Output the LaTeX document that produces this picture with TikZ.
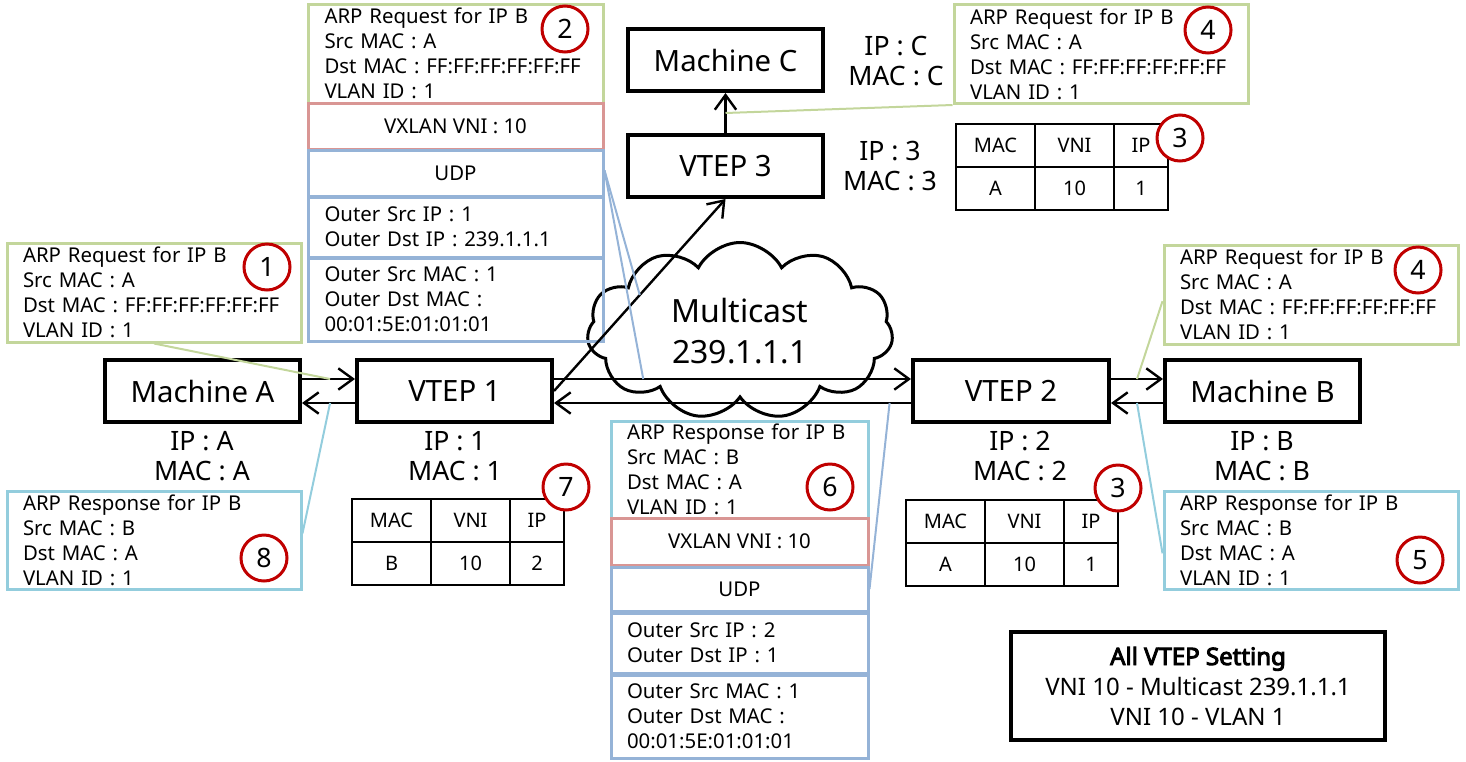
\documentclass[tikz,border=0pt]{standalone}
\usepackage{fontspec}
\setmainfont{Noto Sans}
\newfontfamily\headfont{Noto Sans}[FakeBold=4]
\usetikzlibrary{shapes.symbols}
\usetikzlibrary{arrows.meta}
\definecolor{arpgreen}{HTML}{C3D69B}
\definecolor{vxred}{HTML}{D99694}
\definecolor{outblue}{HTML}{95B3D7}
\definecolor{rspcyan}{HTML}{93CDDD}
\definecolor{stepred}{HTML}{C00000}
\tikzset{
  px/.style 2 args={minimum width=#1*0.75pt, minimum height=#2*0.75pt},
  host/.style={draw, line width=3pt, inner sep=0pt, font=\fontsize{22}{26}\selectfont},
  lbl/.style={align=center, inner sep=0pt, font=\fontsize{20}{23}\selectfont},
  layer/.style={draw=#1, line width=2.25pt, inner sep=0pt, font=\fontsize{15.3}{18.75}\selectfont},
  pkt/.style={layer=#1, align=left, text width=196.5pt},
  cell/.style={draw, line width=1.5pt, inner sep=0pt, px={#1}{43}, font=\fontsize{15}{18}\selectfont},
  stepno/.style={circle, draw=stepred, fill=white, line width=2.25pt, minimum size=46*0.75pt, inner sep=0pt, font=\fontsize{20}{20}\selectfont},
  flow/.style={line width=1.8pt, -{Straight Barb[length=11pt,width=16pt]}},
  callout/.style={draw=#1, line width=1.5pt}
}
\begin{document}
\begin{tikzpicture}[x=0.75pt, y=-0.75pt]
    \useasboundingbox (0,0) rectangle (1466,761);
    % hosts and VTEPs
    \node[host, px={195}{62}] (ma) at (202.5,391) {Machine A};
    \node[host, px={195}{62}] (v1) at (454.5,391) {VTEP 1};
    \node[host, px={196}{62}] (v2) at (1011,391) {VTEP 2};
    \node[host, px={195}{62}] (mb) at (1262.5,391) {Machine B};
    \node[host, px={195}{62}] (mc) at (725.5,60) {Machine C};
    \node[host, px={195}{62}] (v3) at (725.5,166) {VTEP 3};
    \node[lbl] (ipa) at (202,456) {IP : A\\MAC : A};
    \node[lbl] (ip1) at (455,456) {IP : 1\\MAC : 1};
    \node[lbl] (ip2) at (1020,456) {IP : 2\\MAC : 2};
    \node[lbl] (ipb) at (1262,456) {IP : B\\MAC : B};
    \node[lbl] (ipc) at (896,61) {IP : C\\MAC : C};
    \node[lbl] (ip3) at (890,166) {IP : 3\\MAC : 3};
    % multicast group
    \node[cloud, draw, line width=2.25pt, cloud puffs=11, cloud puff arc=125, aspect=1.8,
          px={306}{177}, inner sep=0pt, align=center, font=\fontsize{24}{31}\selectfont]
          (mcast) at (740,331) {Multicast\\239.1.1.1};
    % request from A (1)
    \node[pkt=arpgreen, px={294}{99}] (p1) at (154,292.5) {ARP Request for IP B\\Src MAC : A\\Dst MAC : FF:FF:FF:FF:FF:FF\\VLAN ID : 1};
    % encapsulated request (2)
    \node[pkt=arpgreen, px={295}{99}] (p2arp) at (455.5,53.5) {ARP Request for IP B\\Src MAC : A\\Dst MAC : FF:FF:FF:FF:FF:FF\\VLAN ID : 1};
    \node[layer=vxred, px={295}{46}] (p2vx) at (455.5,126) {VXLAN VNI : 10};
    \node[layer=outblue, px={295}{46}] (p2udp) at (455.5,173) {UDP};
    \node[pkt=outblue, px={295}{60}] (p2ip) at (455.5,227) {Outer Src IP : 1\\Outer Dst IP : 239.1.1.1};
    \node[pkt=outblue, px={295}{83}] (p2mac) at (455.5,299.5) {Outer Src MAC : 1\\Outer Dst MAC :\\00:01:5E:01:01:01};
    % decapsulated request (4)
    \node[pkt=arpgreen, px={294}{99}] (p4c) at (1101,54) {ARP Request for IP B\\Src MAC : A\\Dst MAC : FF:FF:FF:FF:FF:FF\\VLAN ID : 1};
    \node[pkt=arpgreen, px={294}{99}] (p4) at (1311,294.5) {ARP Request for IP B\\Src MAC : A\\Dst MAC : FF:FF:FF:FF:FF:FF\\VLAN ID : 1};
    % response from B (5)
    \node[pkt=rspcyan, px={294}{98}] (p5) at (1311,540) {ARP Response for IP B\\Src MAC : B\\Dst MAC : A\\VLAN ID : 1};
    % encapsulated response (6)
    \node[pkt=rspcyan, px={257}{97}, text width=168.75pt] (p6arp) at (739.5,469.5) {ARP Response for IP B\\Src MAC : B\\Dst MAC : A\\VLAN ID : 1};
    \node[layer=vxred, px={257}{47}] (p6vx) at (739.5,541.5) {VXLAN VNI : 10};
    \node[layer=outblue, px={257}{44}] (p6udp) at (739.5,589) {UDP};
    \node[pkt=outblue, px={257}{60}, text width=168.75pt] (p6ip) at (739.5,643) {Outer Src IP : 2\\Outer Dst IP : 1};
    \node[pkt=outblue, px={257}{83}, text width=168.75pt] (p6mac) at (739.5,716.5) {Outer Src MAC : 1\\Outer Dst MAC :\\00:01:5E:01:01:01};
    % response to A (8)
    \node[pkt=rspcyan, px={294}{98}] (p8) at (154,540) {ARP Response for IP B\\Src MAC : B\\Dst MAC : A\\VLAN ID : 1};
    % learned tables (3, 7)
    \foreach \t/\x/\y/\m/\i in {t7/352/499/B/2, t3/906/500/A/1, t3c/956/124/A/1} {
        \node[cell=79] (\t-mac) at (\x+39.5,\y+21.5) {MAC};
        \node[cell=79] (\t-vni) at (\x+118.5,\y+21.5) {VNI};
        \node[cell=54] (\t-ip) at (\x+185,\y+21.5) {IP};
        \node[cell=79] (\t-macv) at (\x+39.5,\y+64.5) {\m};
        \node[cell=79] (\t-vniv) at (\x+118.5,\y+64.5) {10};
        \node[cell=54] (\t-ipv) at (\x+185,\y+64.5) {\i};
    }
    % step numbers
    \node[stepno] (s1) at (267,267) {1};
    \node[stepno] (s2) at (565,29) {2};
    \node[stepno] (s3c) at (1180,138) {3};
    \node[stepno] (s3) at (1118,488) {3};
    \node[stepno] (s4c) at (1208,30) {4};
    \node[stepno] (s4) at (1418,270) {4};
    \node[stepno] (s5) at (1420,560) {5};
    \node[stepno] (s6) at (830,487) {6};
    \node[stepno] (s7) at (566,487) {7};
    \node[stepno] (s8) at (264,558) {8};
    % links
    \draw[flow] ([yshift=9pt]ma.east) -- node[coordinate, pos=.53] (a1) {} ([yshift=9pt]v1.west);
    \draw[flow] ([yshift=-9pt]v1.west) -- node[coordinate, pos=.47] (a8) {} ([yshift=-9pt]ma.east);
    \draw[flow] ([yshift=9pt]v1.east) -- node[coordinate, pos=.25] (a2) {} ([yshift=9pt]v2.west);
    \draw[flow] ([yshift=-9pt]v2.west) -- node[coordinate, pos=.06] (a6) {} ([yshift=-9pt]v1.east);
    \draw[flow] (v1.east) -- node[coordinate, pos=.5] (a2d) {} (v3.south);
    \draw[flow] (v3.north) -- node[coordinate, pos=.5] (a4c) {} (mc.south);
    \draw[flow] ([yshift=9pt]v2.east) -- node[coordinate, pos=.5] (a4) {} ([yshift=9pt]mb.west);
    \draw[flow] ([yshift=-9pt]mb.west) -- node[coordinate, pos=.5] (a5) {} ([yshift=-9pt]v2.east);
    % callouts
    \draw[callout=arpgreen] (p1.south) -- (a1);
    \draw[callout=rspcyan] ([yshift=5pt]p8.east) -- (a8);
    \draw[callout=outblue] ([yshift=2pt]p2udp.east) -- (a2d);
    \draw[callout=outblue] ([yshift=2pt]p2udp.east) -- (a2);
    \draw[callout=outblue] (p6udp.east) -- (a6);
    \draw[callout=arpgreen] (a4c) -- (p4c.south west);
    \draw[callout=arpgreen] (a4) -- ([yshift=-5pt]p4.west);
    \draw[callout=rspcyan] (a5) -- ([yshift=-10pt]p5.west);
    % settings
    \node[host, px={374}{108}, align=center, font=\fontsize{18}{22.5}\selectfont] (cfg) at (1198,686)
        {{\headfont All VTEP Setting}\\VNI 10 - Multicast 239.1.1.1\\VNI 10 - VLAN 1};
\end{tikzpicture}
\end{document}
